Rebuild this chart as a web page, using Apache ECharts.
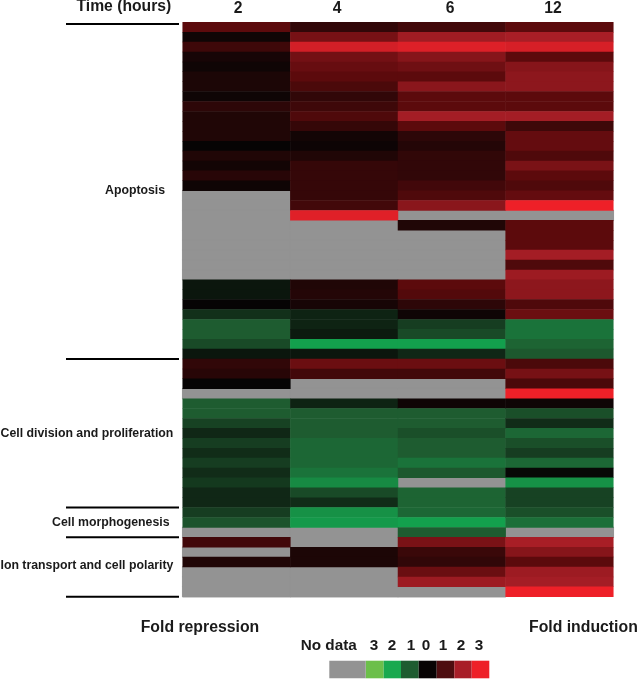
<!DOCTYPE html>
<html>
<head>
<meta charset="utf-8">
<style>
  html, body { margin: 0; padding: 0; background: #fff; }
  #chart { width: 637px; height: 680px; }
</style>
<script src="https://cdn.jsdelivr.net/npm/echarts@6/dist/echarts.min.js"></script>
</head>
<body>
<div id="chart"></div>
<script>
const timeLabels = ['2', '4', '6', '12']

// signed fold change per row, null = no data
const col2 = [1, 0.1, 0.65, 0.2, 0.1, 0.25, 0.25, 0.1, 0.45, 0.3, 0.3, 0.3, 0, 0.3, 0.15, 0.4, 0.1,
  null, null, null, null, null, null, null, null, null,
  -0.2, -0.2, 0, -0.5, -1, -1, -0.8, -0.2, 0.5, 0.4, 0, null,
  -1, -1, -0.7, -0.4, -0.65, -0.45, -0.65, -0.45, -0.6, -0.4, -0.4, -0.65, -0.9, null,
  0.7, null, 0.3, null, null, null]
const col4 = [0.5, 1.35, 2.6, 1.3, 1.15, 1, 0.8, 0.5, 0.65, 0.85, 0.55, 0.15, 0.08, 0.3, 0.55, 0.55, 0.55,
  0.55, 0.7, 2.8, null, null, null, null, null, null,
  0.3, 0.35, 0.2, -0.35, -0.35, -0.25, -1.9, -0.2, 1.2, 0.7, null, null,
  -0.35, -1, -1, -1, -1.15, -1.15, -1.15, -1.3, -1.6, -0.8, -0.45, -1.7, -1.8, null,
  null, 0.25, 0.25, null, null, null]
const col6 = [0.7, 1.9, 2.75, 1.55, 1.25, 1, 1.6, 1, 1, 1.95, 1, 0.45, 0.35, 0.5, 0.5, 0.5, 0.7,
  0.85, 1.6, null, 0.3, null, null, null, null, null,
  1, 0.9, 0.45, 0.1, -0.65, -0.8, -1.9, -0.4, 1.2, 0.7, null, null,
  0.1, -1, -1, -0.85, -1, -1, -1.3, -0.95, null, -1.1, -1.1, -1.15, -1.9, -1,
  1.4, 0.6, 0.5, 1.2, 1.85, null]
const col12 = [1, 2, 2.65, 1, 1.55, 1.65, 1.65, 1, 1, 1.95, 0.65, 1.1, 1.1, 0.85, 1.4, 1, 0.85,
  1.1, 3, null, 1, 1, 1, 1.95, 0.85, 1.85,
  1.65, 1.65, 0.85, 1.2, -1.3, -1.3, -1.1, -0.95, 0.8, 1.35, 0.8, 3,
  0.1, -0.85, -0.45, -1.15, -0.85, -0.65, -1.15, -0.05, -1.7, -0.7, -0.7, -0.85, -1.25, null,
  2, 1.55, 1, 1.85, 1.95, 3]

const columns = [col2, col4, col6, col12]
const rowNames = col2.map((_, i) => i)

const scaleColors = ['#6cbf4a', '#12a850', '#1e5c30', '#060404', '#5c0a0c', '#a81e26', '#ee2028']
const noDataColor = '#939393'

const legendLabels = ['3', '2', '1', '0', '1', '2', '3']

const groupBreaks = [0, 34, 49, 52, 58]

const measured = []
const missing = []
columns.forEach((col, c) => col.forEach((v, r) => {
  if (v === null) missing.push([c, r, 1])
  else measured.push([c, r, v])
}))

const grid = { left: 182.7, top: 22.3, width: 430.6, height: 574.4 }
const font = '"Liberation Sans", Arial, sans-serif'

function text(str, x, y, size, align) {
  return {
    type: 'text', x, y,
    style: { text: str, font: `bold ${size}px ${font}`, fill: '#1a1a1a', textAlign: align || 'left', textVerticalAlign: 'middle' },
  }
}

const rowH = grid.height / rowNames.length
const separators = groupBreaks.map(b => {
  const y = grid.top + b * rowH + (b === 0 ? 1.7 : 0)
  return { type: 'line', shape: { x1: 66, y1: y, x2: 179, y2: y }, style: { stroke: '#000', lineWidth: 2 } }
})

// the time labels sit off the column centres in the original
const timeLabelX = [238, 337, 450, 553]

const legendEdges = [365.7, 383.7, 401, 418.7, 436.7, 454.3, 471.7, 489.3]
const legendDigitX = [374, 392, 411, 426, 443, 461, 479]
const legendSwatches = ['#6cbf4a', '#1aa94f', '#1e5c30', '#080404', '#4e0d10', '#a81e28', '#ee2028']
const legendBoxes = legendSwatches.map((color, i) => ({
  type: 'rect',
  shape: { x: legendEdges[i], y: 660.7, width: legendEdges[i + 1] - legendEdges[i], height: 17.6 },
  style: { fill: color },
}))
legendBoxes.push({ type: 'rect', shape: { x: 329.3, y: 660.7, width: 36.4, height: 17.6 }, style: { fill: noDataColor } })

const chart = echarts.init(document.getElementById('chart'), null, { renderer: 'canvas' })
chart.setOption({
  animation: false,
  backgroundColor: '#fff',
  grid,
  xAxis: {
    type: 'category',
    position: 'top',
    data: timeLabels,
    axisLine: { show: false },
    axisTick: { show: false },
    splitLine: { show: false },
    axisLabel: { show: false },
  },
  yAxis: {
    type: 'category',
    inverse: true,
    data: rowNames,
    axisLine: { show: false },
    axisTick: { show: false },
    axisLabel: { show: false },
    splitLine: { show: false },
  },
  visualMap: {
    show: false,
    seriesIndex: 1,
    min: -3,
    max: 3,
    inRange: { color: scaleColors },
  },
  series: [
    // gray cells go underneath so their border does not eat into the coloured rows
    {
      type: 'heatmap',
      data: missing,
      progressive: 0,
      itemStyle: { color: noDataColor, borderColor: noDataColor, borderWidth: 1 },
      emphasis: { disabled: true },
    },
    { type: 'heatmap', data: measured, progressive: 0, emphasis: { disabled: true } },
  ],
  graphic: [
    ...separators,
    text('Time (hours)', 76.5, 7, 15.7),
    ...timeLabels.map((t, i) => text(t, timeLabelX[i], 9, 15.7, 'center')),
    text('Apoptosis', 105, 190.5, 12.3),
    text('Cell division and proliferation', 0.5, 434, 12.3),
    text('Cell morphogenesis', 52, 522.7, 12.3),
    text('Ion transport and cell polarity', 0.5, 566, 12.3),
    text('Fold repression', 140.7, 627.7, 15.8),
    text('Fold induction', 529, 627.7, 15.8),
    text('No data', 300.7, 646, 15.3),
    ...legendLabels.map((d, i) => text(d, legendDigitX[i], 646, 15.3, 'center')),
    ...legendBoxes,
  ],
})
</script>
</body>
</html>
